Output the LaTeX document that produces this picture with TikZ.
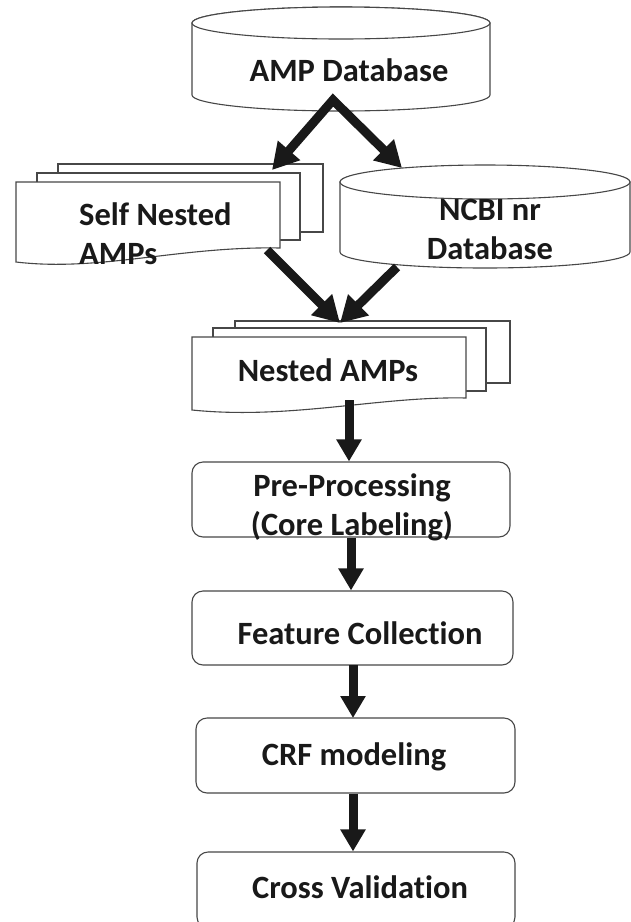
\documentclass[tikz,border=0pt]{standalone}
\usepackage{fontspec}
\setmainfont{Carlito}[Ligatures={NoCommon}]
\usetikzlibrary{arrows.meta}
\tikzset{
  shapeline/.style={draw=black!72, line width=1.1pt, fill=white},
  lbl/.style={font=\bfseries\fontsize{32.5}{39}\selectfont, text=black!90, inner sep=0pt, align=center},
  stepbox/.style={shapeline, rounded corners=11pt, inner sep=0pt},
  fatline/.style={draw=black!90, line width=9pt, line join=miter},
  bighead/.style={fatline, -{Triangle[length=26pt,width=28pt]}},
  twohead/.style={fatline, {Triangle[length=26pt,width=28pt]}-{Triangle[length=26pt,width=28pt]}},
  downarrow/.style={fatline, -{Triangle[length=22pt,width=24pt]}},
}
\begin{document}
\begin{tikzpicture}[x=1pt,y=1pt]
\useasboundingbox (0,0) rectangle (631,-922);
\clip (0,0) rectangle (631,-922);
\fill[white] (0,0) rectangle (631,-922);

% AMP Database cylinder
\path[shapeline] (192,-23) -- (192,-95) arc[start angle=180,end angle=360,x radius=149,y radius=16] -- (490,-23) arc[start angle=0,end angle=180,x radius=149,y radius=16] -- cycle;
\draw[shapeline] (341,-23) ellipse[x radius=149,y radius=16];
\node[lbl] (amp) at (349,-70) {AMP Database};
\coordinate (ampapex) at (333,-100);

% Self Nested AMPs stack
\path[shapeline] (58,-164) rectangle (323,-232);
\path[shapeline] (37,-173) rectangle (300,-240);
\path[shapeline] (16,-182) -- (280,-182) -- (280,-248) .. controls (180,-246) and (100,-272) .. (16,-262) -- cycle;
\node[lbl, align=left, anchor=west] (self) at (79,-234) {Self Nested\\AMPs};
\coordinate (selftip) at (272,-170);
\coordinate (selfout) at (267,-250);

% NCBI nr Database cylinder
\path[shapeline] (340,-182) -- (340,-252) arc[start angle=180,end angle=360,x radius=145,y radius=16] -- (630,-182) arc[start angle=0,end angle=180,x radius=145,y radius=16] -- cycle;
\draw[shapeline] (485,-182) ellipse[x radius=145,y radius=17];
\node[lbl] (ncbi) at (490,-229) {NCBI nr\\Database};
\coordinate (ncbitip) at (402,-168);
\coordinate (ncbiout) at (397,-267);

% Nested AMPs stack
\path[shapeline] (235,-321) rectangle (510,-383);
\path[shapeline] (213,-328) rectangle (486,-391);
\path[shapeline] (192,-337) -- (466,-337) -- (466,-398) .. controls (380,-396) and (290,-420) .. (192,-410) -- cycle;
\node[lbl] (nested) at (328,-370) {Nested AMPs};
\coordinate (nestedtip) at (340,-323);
\coordinate (nestedout) at (349,-400);

% Process boxes
\node[stepbox, minimum width=318pt, minimum height=75pt] (pre) at (351,-499.5) {};
\node[lbl] (pretext) at (352,-507) {Pre-Processing\\(Core Labeling)};
\node[stepbox, minimum width=321pt, minimum height=74pt] (feat) at (352.5,-628) {};
\node[lbl] (feattext) at (360,-633) {Feature Collection};
\node[stepbox, minimum width=319pt, minimum height=75pt] (crf) at (355.5,-755.5) {};
\node[lbl] (crftext) at (354,-757) {CRF modeling};
\node[stepbox, minimum width=318pt, minimum height=76pt] (cv) at (356,-890) {};
\node[lbl] (cvtext) at (360,-887) {Cross Validation};

% Arrows
\draw[twohead] (selftip) -- (ampapex) -- (ncbitip);
\draw[bighead] (selfout) -- (nestedtip);
\draw[bighead] (ncbiout) -- (nestedtip);
\draw[downarrow] (nestedout) -- (nestedout |- pre.north);
\draw[downarrow] (pre.south) -- (pre.south |- feat.north);
\draw[downarrow] (353,-665) -- (353,-718) coordinate (crftop);
\draw[downarrow] (crf.south -| crftop) -- (crftop |- cv.north);
\end{tikzpicture}
\end{document}
